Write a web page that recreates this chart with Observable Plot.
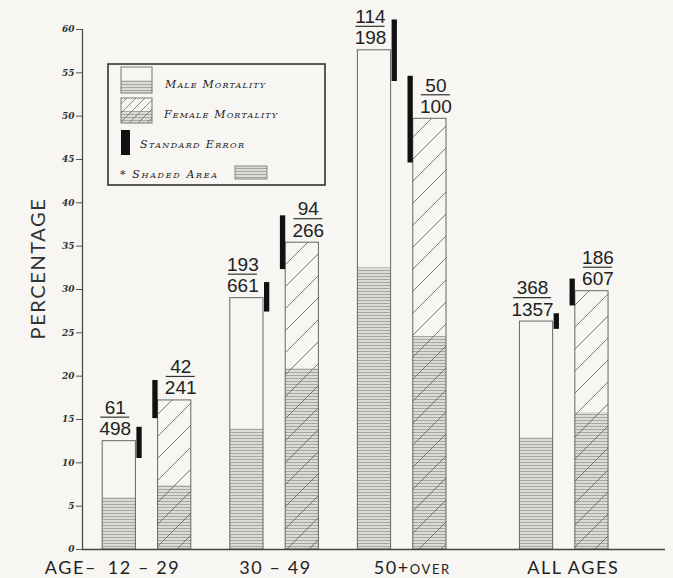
<!DOCTYPE html>
<html>
<head>
<meta charset="utf-8">
<script src="https://cdn.jsdelivr.net/npm/d3@7"></script>
<script src="https://cdn.jsdelivr.net/npm/@observablehq/plot@0.6"></script>
<style>
  html, body { margin: 0; padding: 0; background: #f7f6f2; }
</style>
</head>
<body>
<div id="chart"></div>
<script>
// ---- data ----
const groups = ["12 – 29", "30 – 49", "50+over", "ALL AGES"];
const maleDeaths = [61, 193, 114, 368];
const maleTotal = [498, 661, 198, 1357];
const femaleDeaths = [42, 94, 50, 186];
const femaleTotal = [241, 266, 100, 607];
const malePct = [12.5, 29.0, 57.6, 26.3];
const femalePct = [17.2, 35.4, 49.7, 29.8];
const maleShaded = [6.0, 13.9, 32.5, 12.9];
const femaleShaded = [7.4, 20.9, 24.6, 15.8];
const maleSELow = [10.5, 27.4, 54.0, 25.4];
const maleSEHigh = [14.1, 30.8, 61.1, 27.2];
const femaleSELow = [15.1, 32.3, 44.6, 28.1];
const femaleSEHigh = [19.5, 38.5, 54.6, 31.2];
const yTicks = [0, 5, 10, 15, 20, 25, 30, 35, 40, 45, 50, 55, 60];
const legendLabels = ["Male Mortality", "Female Mortality", "Standard Error", "* Shaded Area"];

// ---- layout ----
const bg = "#f7f6f2";
const W = 673, H = 578;
const mL = 82, mR = 8, mT = 29, mB = 29;
const xDomain = [-0.5055, 4.0635];
const P = (W - mL - mR) / (xDomain[1] - xDomain[0]); // px per unit
const px = v => v / P;
const groupX = i => i + (groups[i] === "ALL AGES" ? 0.27 : 0);
const labelNudge = [-3, 1, 10, 9]; // px, label centring as lettered
const hw = px(16.6);

const rows = groups.flatMap((g, i) => [
  {sex: "M", c: groupX(i) - px(27.7), pct: malePct[i], shaded: maleShaded[i],
   lo: maleSELow[i], hi: maleSEHigh[i], num: maleDeaths[i], den: maleTotal[i]},
  {sex: "F", c: groupX(i) + px(27.7), pct: femalePct[i], shaded: femaleShaded[i],
   lo: femaleSELow[i], hi: femaleSEHigh[i], num: femaleDeaths[i], den: femaleTotal[i]}
]);
const M = rows.filter(d => d.sex === "M");
const F = rows.filter(d => d.sex === "F");

const numFont = "Lato, 'Open Sans', sans-serif";
const fracFont = "'Liberation Sans', Arial, sans-serif";
const fracMarks = (data, dx) => [
  Plot.text(data, {x: "c", y: "pct", text: d => `${d.num}\n${d.den}`, dx, dy: -6, lineAnchor: "bottom",
    lineHeight: 1.12, fontSize: 19, fontFamily: fracFont, fill: "#222"}),
  Plot.ruleY(data, {y: "pct", x1: d => d.c - px(4.5 * String(d.den).length + 1),
    x2: d => d.c + px(4.5 * String(d.den).length + 1), dx, dy: -24, stroke: "#333", strokeWidth: 1.2})
];

const svg = Plot.plot({
  width: W, height: H,
  marginLeft: mL, marginRight: mR, marginTop: mT, marginBottom: mB,
  style: {background: bg, overflow: "visible"},
  x: {type: "linear", domain: xDomain, axis: null},
  y: {domain: [0, 60], ticks: yTicks, tickSize: 6, tickPadding: 2, label: null},
  marks: [
    // bar body
    Plot.rect(rows, {x1: d => d.c - hw, x2: d => d.c + hw, y1: 0, y2: "pct", fill: bg}),
    // shaded part
    Plot.rect(rows, {x1: d => d.c - hw, x2: d => d.c + hw, y1: 0, y2: "shaded", fill: "url(#hl)"}),
    // female hatch
    Plot.rect(F, {x1: d => d.c - hw, x2: d => d.c + hw, y1: 0, y2: "pct", fill: "url(#dg)"}),
    // outline
    Plot.rect(rows, {x1: d => d.c - hw, x2: d => d.c + hw, y1: 0, y2: "pct", fill: "none", stroke: "#666", strokeWidth: 1}),
    // standard error
    Plot.rect(M, {x1: d => d.c + hw + px(1), x2: d => d.c + hw + px(6.3), y1: "lo", y2: "hi", fill: "#111"}),
    Plot.rect(F, {x1: d => d.c - hw - px(5.3), x2: d => d.c - hw, y1: "lo", y2: "hi", fill: "#111"}),
    // fractions
    ...fracMarks(M, -4),
    ...fracMarks(F, 6),
    // axes lines
    Plot.ruleX([xDomain[0]], {y1: 0, y2: 60, stroke: "#444", strokeWidth: 1.2}),
    Plot.ruleY([0], {stroke: "#444", strokeWidth: 1.4}),
    // x labels
    Plot.text(groups, {x: (d, i) => groupX(i) + px(labelNudge[i]), y: 0, dy: 24, lineAnchor: "bottom", fontSize: 18,
      fontFamily: numFont, fontVariant: "small-caps", fill: "#222"}),
    Plot.text(["AGE–"], {x: groupX(0), y: 0, dx: -50, dy: 24, lineAnchor: "bottom", textAnchor: "end",
      fontSize: 18, fontFamily: numFont, fill: "#222"}),
    // y label
    Plot.text(["PERCENTAGE"], {frameAnchor: "left", textAnchor: "middle", rotate: -90, dx: -44, dy: -21, fontSize: 20,
      fontFamily: numFont, fill: "#333"})
  ]
});

const s = d3.select(svg);
// letter spacing for lettered labels
s.selectAll("text").filter(function() {
  const t = this.textContent;
  return groups.includes(t) || t === "AGE–" || t === "PERCENTAGE";
}).attr("letter-spacing", 1.6);

// patterns
const defs = s.insert("defs", ":first-child");
const hl = defs.append("pattern").attr("id", "hl").attr("patternUnits", "userSpaceOnUse")
  .attr("width", 6).attr("height", 3);
hl.append("rect").attr("width", 6).attr("height", 3).attr("fill", "#dcdbd7");
hl.append("rect").attr("width", 6).attr("height", 1).attr("fill", "#a6a5a1");
const dg = defs.append("pattern").attr("id", "dg").attr("patternUnits", "userSpaceOnUse")
  .attr("width", 22).attr("height", 22);
dg.append("path").attr("d", "M0,22 L22,0 M-5,5 L5,-5 M17,27 L27,17")
  .attr("stroke", "#6c6c6c").attr("stroke-width", 0.9).attr("fill", "none");
const dg2 = defs.append("pattern").attr("id", "dg2").attr("patternUnits", "userSpaceOnUse")
  .attr("width", 9).attr("height", 9);
dg2.append("path").attr("d", "M0,9 L9,0 M-3,3 L3,-3 M6,12 L12,6")
  .attr("stroke", "#6c6c6c").attr("stroke-width", 0.8).attr("fill", "none");

// y tick label style
s.selectAll("g[aria-label='y-axis tick label']")
  .attr("font-size", 9).attr("font-style", "italic").attr("font-weight", "bold")
  .attr("font-family", "'DejaVu Serif', serif").attr("fill", "#333");
s.selectAll("g[aria-label='y-axis tick']").attr("stroke", "#555");

// legend
const lg = s.append("g").attr("class", "legend").attr("text-anchor", "start");
lg.append("rect").attr("x", 108).attr("y", 64).attr("width", 217).attr("height", 121)
  .attr("fill", "none").attr("stroke", "#333").attr("stroke-width", 1.6);
// male swatch
lg.append("rect").attr("x", 121).attr("y", 67).attr("width", 31).attr("height", 26).attr("fill", bg);
lg.append("rect").attr("x", 121).attr("y", 80).attr("width", 31).attr("height", 13).attr("fill", "url(#hl)");
lg.append("rect").attr("x", 121).attr("y", 67).attr("width", 31).attr("height", 26)
  .attr("fill", "none").attr("stroke", "#777");
// female swatch
lg.append("rect").attr("x", 121).attr("y", 98).attr("width", 31).attr("height", 25).attr("fill", bg);
lg.append("rect").attr("x", 121).attr("y", 111).attr("width", 31).attr("height", 12).attr("fill", "url(#hl)");
lg.append("rect").attr("x", 121).attr("y", 98).attr("width", 31).attr("height", 25).attr("fill", "url(#dg2)");
lg.append("rect").attr("x", 121).attr("y", 98).attr("width", 31).attr("height", 25)
  .attr("fill", "none").attr("stroke", "#777");
// SE swatch
lg.append("rect").attr("x", 121).attr("y", 130).attr("width", 9).attr("height", 25).attr("fill", "#111");
// shaded swatch
lg.append("rect").attr("x", 235).attr("y", 166).attr("width", 32).attr("height", 13).attr("fill", "url(#hl)")
  .attr("stroke", "#888");
const lt = [
  {t: legendLabels[0], x: 165, y: 88, w: 100},
  {t: legendLabels[1], x: 164, y: 118, w: 113},
  {t: legendLabels[2], x: 140, y: 148, w: 104},
  {t: legendLabels[3], x: 120, y: 178, w: 97}
];
lg.selectAll("text.l").data(lt).join("text").attr("class", "l")
  .attr("x", d => d.x).attr("y", d => d.y).text(d => d.t)
  .attr("text-anchor", "start")
  .attr("textLength", d => d.w).attr("lengthAdjust", "spacing")
  .attr("font-family", "'DejaVu Serif', serif").attr("font-style", "italic")
  .attr("font-variant", "small-caps").attr("font-size", 11).attr("fill", "#222");

document.getElementById("chart").appendChild(svg);
</script>
</body>
</html>
